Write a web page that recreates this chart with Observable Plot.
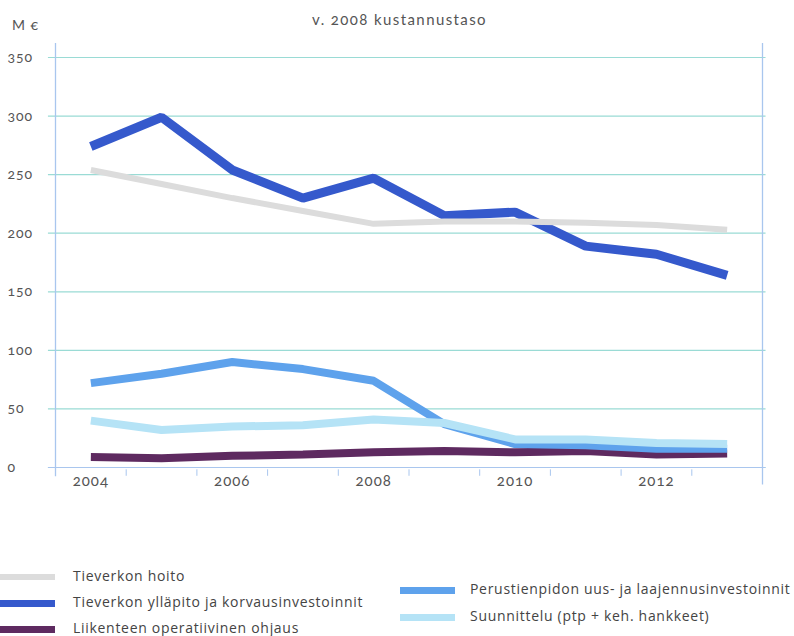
<!DOCTYPE html>
<html>
<head>
<meta charset="utf-8">
<script src="https://cdn.jsdelivr.net/npm/d3@7"></script>
<script src="https://cdn.jsdelivr.net/npm/@observablehq/plot@0.6"></script>
<style>
  body { margin: 0; background: #fff; }
  #wrap { position: relative; width: 794px; height: 636px; overflow: hidden; font-family: Lato, "Open Sans", sans-serif; }
  #wrap svg text { font-family: Lato, "Open Sans", sans-serif; letter-spacing: 1px; font-variant-numeric: oldstyle-nums; font-feature-settings: "onum" 1; }
  .hdr { position: absolute; font-size: 14px; color: #555; line-height: 16px; letter-spacing: 0.9px; font-variant-numeric: oldstyle-nums; font-feature-settings: "onum" 1; white-space: nowrap; }
  .title { font-size: 15px; letter-spacing: 1.4px; }
  .leg { position: absolute; font-family: "Open Sans", sans-serif; font-size: 14px; color: #444; line-height: 18px; letter-spacing: 0.7px; white-space: nowrap; }
  .sw { position: absolute; width: 55px; }
</style>
</head>
<body>
<div id="wrap"></div>
<script>
// Road maintenance spending by category, M€ at 2008 cost level
const years = [2004, 2005, 2006, 2007, 2008, 2009, 2010, 2011, 2012, 2013];
const hoito = [254, 242, 230, 219, 208, 210, 210, 209, 207, 203];
const yllapito = [274, 299, 254, 230, 247, 215, 218, 189, 182, 164];
const ohjaus = [9, 8, 10, 11, 13, 14, 13, 14, 11, 12];
const laajennus = [72, 80, 90, 84, 74, 37, 20, 19, 16, 16];
const suunnittelu = [40, 32, 35, 36, 41, 38, 24, 24, 21, 20];

const seriesNames = [
  "Tieverkon hoito",
  "Tieverkon ylläpito ja korvausinvestoinnit",
  "Liikenteen operatiivinen ohjaus",
  "Perustienpidon uus- ja laajennusinvestoinnit",
  "Suunnittelu (ptp + keh. hankkeet)"
];
const seriesColors = ["#dcdcdc", "#3559cc", "#5e2a60", "#5ea2ec", "#b5e3f6"];
const seriesWidths = [6, 9, 8, 8, 8];
const seriesValues = [hoito, yllapito, ohjaus, laajennus, suunnittelu];

const yTicks = [0, 50, 100, 150, 200, 250, 300, 350];
const xLabels = [2004, 2006, 2008, 2010, 2012];
const xBoundaries = [2004.5, 2005.5, 2006.5, 2007.5, 2008.5, 2009.5, 2010.5, 2011.5, 2012.5];

const rows = seriesNames.flatMap((name, i) =>
  years.map((year, j) => ({ series: name, year, value: seriesValues[i][j] }))
);

// draw order: low series first, the two large ones on top
const drawOrder = [2, 3, 4, 1, 0];

const chart = Plot.plot({
  width: 794,
  height: 500,
  marginTop: 57,
  marginBottom: 33,
  marginLeft: 55,
  marginRight: 32,
  x: { type: "linear", domain: [2003.5, 2013.5], axis: null },
  y: { domain: [0, 350], axis: null },
  style: { fontFamily: "Lato, 'Open Sans', sans-serif", fontSize: "14px", color: "#555", background: "transparent", overflow: "visible" },
  marks: [
    Plot.ruleY(yTicks, { y: d => d, x1: 2003.4, x2: 2013.55, stroke: "#9adbd5", strokeWidth: 1.2 }),
    Plot.ruleX([2003.5], { x: d => d, y1: -8, y2: 362, stroke: "#a9c6ee", strokeWidth: 1.3 }),
    Plot.ruleX([2013.5], { x: d => d, y1: -15, y2: 362, stroke: "#a9c6ee", strokeWidth: 1.3 }),
    Plot.ruleY([0], { y: d => d, x1: 2003.4, x2: 2013.55, stroke: "#a9c6ee", strokeWidth: 1.2 }),
    Plot.ruleX(xBoundaries, { x: d => d, y1: -2, y2: -7.5, stroke: "#a9c6ee", strokeWidth: 1 }),
    ...drawOrder.map(i =>
      Plot.line(rows.filter(r => r.series === seriesNames[i]), {
        x: "year",
        y: "value",
        stroke: seriesColors[i],
        strokeWidth: seriesWidths[i],
        strokeLinejoin: "miter",
        strokeLinecap: "butt"
      })
    ),
    Plot.text(yTicks, { y: d => d, text: d => String(d), frameAnchor: "left", textAnchor: "start", dx: -48, fontSize: 14, fill: "#555" }),
    Plot.text(xLabels, { x: d => d, text: d => String(d), frameAnchor: "bottom", dy: 18, fontSize: 15, fill: "#555" })
  ]
});

const wrap = document.getElementById("wrap");
chart.style.position = "absolute";
chart.style.left = "0px";
chart.style.top = "0px";
wrap.appendChild(chart);

function addText(cls, text, left, top) {
  const el = document.createElement("div");
  el.className = cls;
  el.textContent = text;
  el.style.left = left + "px";
  el.style.top = top + "px";
  wrap.appendChild(el);
  return el;
}

addText("hdr", "M €", 12, 17);
const title = addText("hdr title", "v. 2008 kustannustaso", 312, 11);

// legend: two columns below the chart
const legendPos = [
  { x: 0, y: 577 }, { x: 0, y: 603 }, { x: 0, y: 629 },
  { x: 400, y: 590 }, { x: 400, y: 617 }
];
seriesNames.forEach((name, i) => {
  const p = legendPos[i];
  const sw = document.createElement("div");
  sw.className = "sw";
  const h = i === 0 ? 6 : 7;
  sw.style.left = p.x + "px";
  sw.style.top = (p.y - h / 2) + "px";
  sw.style.height = h + "px";
  sw.style.background = seriesColors[i];
  wrap.appendChild(sw);
  addText("leg", name, p.x + (p.x === 0 ? 73 : 70), p.y - 10);
});
</script>
</body>
</html>
